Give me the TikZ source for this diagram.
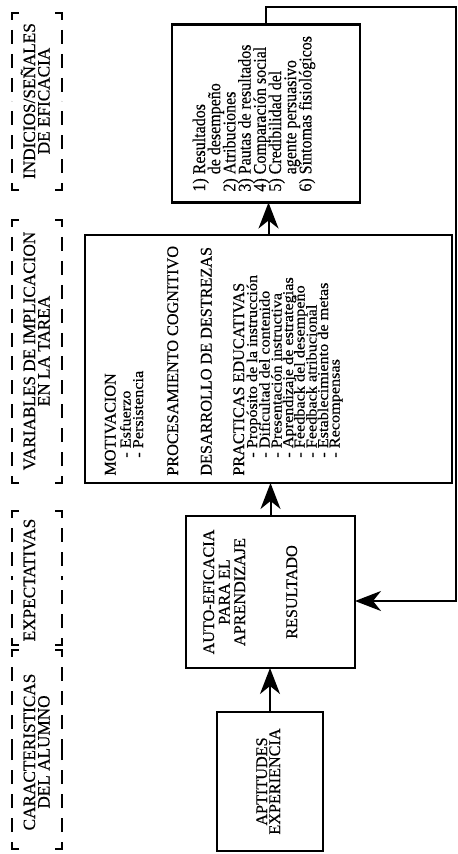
\documentclass[tikz,border=0pt]{standalone}
\usepackage{fontspec}
\setmainfont{Liberation Serif}[FakeBold=0.4]
\usetikzlibrary{arrows.meta}
% indentation helpers for the list entries
\newcommand\listindent{\hspace*{9pt}}
\newcommand\numindent{\phantom{1) }}
% dashed bracket round a column heading: top end #1, bottom end #2, middle #3
\newcommand\headbracket[3]{%
  \draw[brk] (19,#1) -- (12,#1) -- (12,#3);
  \draw[brk] (19,#2) -- (12,#2) -- (12,#3);
  \draw[brk] (55,#1) -- (62,#1) -- (62,#3);
  \draw[brk] (55,#2) -- (62,#2) -- (62,#3);}
\begin{document}
\begin{tikzpicture}[x=0.5pt,y=-0.5pt,
  box/.style={draw, line width=1.1pt, inner sep=0pt, outer sep=0pt},
  arr/.style={line width=1pt, -{Stealth[length=13pt,width=10pt,inset=4pt]}},
  brk/.style={line width=1.1pt, dash pattern=on 7pt off 5pt},
  hdr/.style={rotate=90, anchor=base, inner sep=0pt, font=\fontsize{8.6}{10}\selectfont},
  ctr/.style={rotate=90, anchor=base, inner sep=0pt, font=\fontsize{8.1}{10}\selectfont},
  lft/.style={rotate=90, yscale=0.92, anchor=base west, inner sep=0pt, font=\fontsize{8.1}{10}\selectfont},
  cue/.style={rotate=90, yscale=1.12, anchor=base west, inner sep=0pt, font=\fontsize{8}{10}\selectfont},
  capline/.style={rotate=90, anchor=base west, inner sep=0pt, font=\fontsize{8.1}{10}\selectfont}]
\useasboundingbox (0,0) rectangle (458,854);

% column headings
\headbracket{650}{849}{750}
\node[hdr] (h1a) at (35,752) {CARACTERISTICAS};
\node[hdr] (h1b) at (49.5,752) {DEL ALUMNO};
\headbracket{511}{645}{578}
\node[hdr] (h2a) at (35,580) {EXPECTATIVAS};
\headbracket{220}{483}{351}
\node[hdr] (h3a) at (35,351) {VARIABLES DE IMPLICACION};
\node[hdr] (h3b) at (49.5,351) {EN LA TAREA};
\headbracket{13}{190}{101}
\node[hdr] (h4a) at (35,101) {INDICIOS/SEÑALES};
\node[hdr] (h4b) at (49.5,101) {DE EFICACIA};

% boxes
\node[box, minimum width=53pt, minimum height=69.5pt] (apt) at (270,781.5) {};
\node[box, minimum width=84.5pt, minimum height=76pt] (auto) at (270.5,592) {};
\node[box, minimum width=183.5pt, minimum height=124pt] (var) at (268.5,359) {};
\node[box, minimum width=94pt, minimum height=89pt] (ind) at (266,113.5) {};

% box contents
\node[ctr] (apt1) at (267,781.5) {APTITUDES};
\node[ctr] (apt2) at (280,781.5) {EXPERIENCIA};

\node[ctr] (auto1) at (214,592) {AUTO-EFICACIA};
\node[ctr] (auto2) at (229.5,592) {PARA EL};
\node[ctr] (auto3) at (245,592) {APRENDIZAJE};
\node[ctr] (auto4) at (297,592) {RESULTADO};

\node[capline] (mot) at (115.5,476) {MOTIVACION};
\node[capline] (proc) at (178,476) {PROCESAMIENTO COGNITIVO};
\node[capline] (des) at (211.5,476) {DESARROLLO DE DESTREZAS};
\node[capline] (prac) at (244,476) {PRACTICAS EDUCATIVAS};

\foreach \bx/\txt [count=\i] in {
  130.5/Esfuerzo,
  143/Persistencia,
  257/Propósito de la instrucción,
  269.5/Dificultad del contenido,
  281.5/Presentación instructiva,
  293/Aprendizaje de estrategias,
  304.5/Feedback del desempeño,
  316.5/Feedback atribucional,
  328/Establecimiento de metas,
  339.5/Recompensas}
  \node[lft] (var\i) at (\bx,476) {\listindent- \txt};

\foreach \bx/\txt [count=\i] in {
  205/{1) Resultados},
  220.2/{\numindent de desempeño},
  235.4/{2) Atribuciones},
  250.6/{3) Pautas de resultados},
  265.8/{4) Comparación social},
  281/{5) Credibilidad del},
  296.2/{\numindent agente persuasivo},
  311.4/{6) Síntomas fisiológicos}}
  \node[cue] (ind\i) at (\bx,192) {\txt};

% connectors
\draw[arr] (apt.north) -- (apt.north |- auto.south);
\draw[arr] (auto.north) -- (auto.north |- var.south);
\draw[arr] (var.north) -- (var.north |- ind.south);
\coordinate (fbturn) at (456,7);
\coordinate (fbin) at (auto.east |- 0,601);
\draw[arr] (ind.north) |- (fbturn) |- (fbin);
\end{tikzpicture}
\end{document}
